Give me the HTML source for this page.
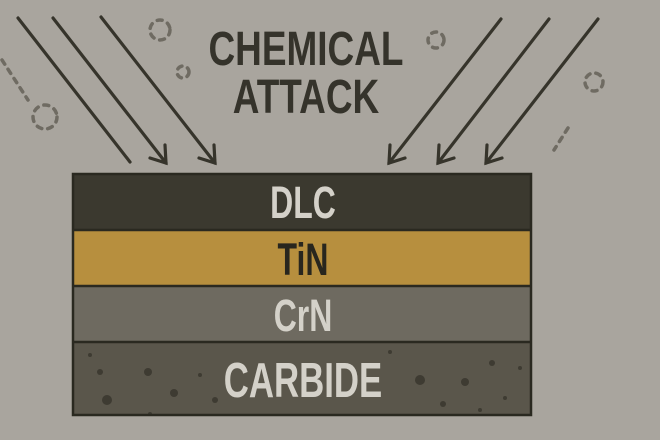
<!DOCTYPE html>
<html><head><style>
html,body{margin:0;padding:0}
body{width:660px;height:440px;background:#a9a59e;overflow:hidden;position:relative}
svg{position:absolute;left:0;top:0}
text{font-family:"Liberation Sans Narrow","Liberation Sans",sans-serif;font-weight:bold;text-anchor:middle}
</style></head><body>
<svg width="660" height="440" viewBox="0 0 660 440">
<g stroke="#36342b" stroke-width="3.2" fill="none" stroke-linecap="round" stroke-linejoin="miter">
<line x1="18" y1="18" x2="130" y2="162"/>
<line x1="53" y1="18" x2="166" y2="163"/>
<line x1="101" y1="17" x2="215" y2="163"/>
<line x1="501" y1="19" x2="389" y2="163"/>
<line x1="549" y1="19" x2="438" y2="163"/>
<line x1="598" y1="19" x2="486" y2="163"/>
<polyline points="150,158 166,163 165,145"/>
<polyline points="199,158 215,163 214,145"/>
<polyline points="405,158 389,163 390,145"/>
<polyline points="454,158 438,163 439,145"/>
<polyline points="502,158 486,163 487,145"/>
</g>
<g stroke="#6f6b62" stroke-width="3.5" fill="none" stroke-dasharray="5 6" stroke-linecap="round">
<circle cx="45" cy="117" r="12"/>
<circle cx="160" cy="30" r="10"/>
<circle cx="183" cy="72" r="6"/>
<circle cx="436" cy="40" r="8"/>
<circle cx="594" cy="82" r="9"/>
<line x1="2" y1="60" x2="28" y2="100"/>
<line x1="568" y1="128" x2="554" y2="150"/>
</g>
<g transform="translate(306 0) scale(0.77 1) translate(-306 0)">
<text x="306" y="65" font-size="48" fill="#35332b">CHEMICAL</text>
<text x="306" y="113" font-size="48" fill="#35332b">ATTACK</text>
</g>
<rect x="73" y="174" width="458" height="56" fill="#3b392f"/>
<rect x="73" y="230" width="458" height="56" fill="#b78f3e"/>
<rect x="73" y="286" width="458" height="56" fill="#6e6a60"/>
<rect x="73" y="342" width="458" height="73" fill="#5a564b"/>
<g fill="#3e3b32">
<circle cx="100" cy="372" r="3"/><circle cx="148" cy="372" r="4"/><circle cx="174" cy="393" r="4"/><circle cx="107" cy="400" r="5"/><circle cx="150" cy="414" r="2"/><circle cx="200" cy="375" r="2"/><circle cx="420" cy="380" r="5"/><circle cx="465" cy="382" r="4"/><circle cx="492" cy="363" r="3"/><circle cx="443" cy="404" r="3"/><circle cx="505" cy="398" r="2"/><circle cx="390" cy="352" r="2"/><circle cx="90" cy="355" r="2"/><circle cx="215" cy="400" r="3"/><circle cx="480" cy="410" r="2"/><circle cx="520" cy="368" r="2"/>
</g>
<g stroke="#2a2920" stroke-width="2.5" fill="none">
<rect x="73" y="174" width="458" height="241"/>
<line x1="73" y1="230" x2="531" y2="230"/>
<line x1="73" y1="286" x2="531" y2="286"/>
<line x1="73" y1="342" x2="531" y2="342"/>
</g>
<g transform="translate(303 0) scale(0.71 1) translate(-303 0)">
<text x="303" y="218" font-size="45" fill="#d4d1c9">DLC</text>
<text x="303" y="275" font-size="45" fill="#28261e">TiN</text>
<text x="303" y="331" font-size="45" fill="#d4d1c9">CrN</text>
<text x="303" y="397" font-size="49" fill="#d4d1c9">CARBIDE</text>
</g>
</svg>
</body></html>
